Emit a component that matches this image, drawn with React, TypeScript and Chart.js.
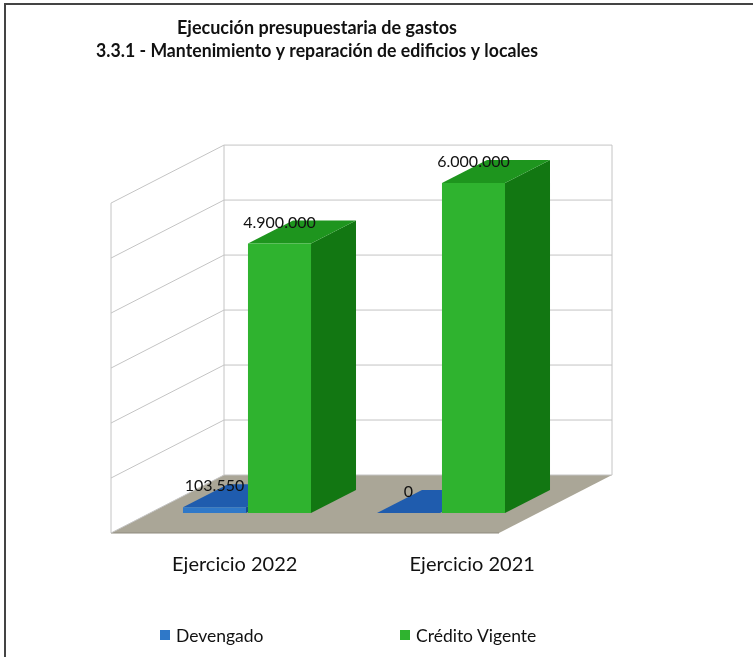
import React, { useEffect, useRef } from "react";
import { Chart, registerables } from "chart.js";

Chart.register(...registerables);

const categories = ["Ejercicio 2022", "Ejercicio 2021"];
const seriesNames = ["Devengado", "Crédito Vigente"];
const devengado = [103550, 0];
const creditoVigente = [4900000, 6000000];
const yMax = 6000000;
const yStep = 1000000;
const titleLines = [
  "Ejecución presupuestaria de gastos",
  "3.3.1 - Mantenimiento y reparación de edificios y locales",
];

const FONT = "Lato, 'Open Sans', sans-serif";

const COLORS = {
  blue: { front: "#2f78c8", top: "#1f5cae", side: "#174a8c" },
  green: { front: "#2fb32f", top: "#1e951e", side: "#127712" },
  floor: "#aaa697",
  wall: "#c4c4c4",
};

// depth of the floor/walls (pixels) and bar depth
const DEPTH = { dx: 113, dy: -58, front: 0.345 };
const BAR_DEPTH = { dx: 45, dy: -23 };

const fmt = (v: number) => String(v).replace(/\B(?=(\d{3})+(?!\d))/g, ".");

const proj = (x: number, y: number, t: number) => [
  x + (t - DEPTH.front) * DEPTH.dx,
  y + (t - DEPTH.front) * DEPTH.dy,
];

const poly = (ctx: CanvasRenderingContext2D, pts: number[][], fill?: string, stroke?: string) => {
  ctx.beginPath();
  pts.forEach((p, i) => (i === 0 ? ctx.moveTo(p[0], p[1]) : ctx.lineTo(p[0], p[1])));
  ctx.closePath();
  if (fill) {
    ctx.fillStyle = fill;
    ctx.fill();
  }
  if (stroke) {
    ctx.strokeStyle = stroke;
    ctx.lineWidth = 1;
    ctx.stroke();
  }
};

const line = (ctx: CanvasRenderingContext2D, a: number[], b: number[]) => {
  ctx.beginPath();
  ctx.moveTo(a[0], a[1]);
  ctx.lineTo(b[0], b[1]);
  ctx.stroke();
};

const threeD = {
  id: "threeD",
  afterLayout(chart: any) {
    // labels axis spans a wider band than the bar axis (perspective of the floor edge)
    const xl = chart.scales.xl;
    xl.left = 116;
    xl.right = 591;
    xl.configure();
  },
  beforeDatasetsDraw(chart: any) {
    const { ctx, chartArea, scales } = chart;
    const { left, right, top, bottom } = chartArea;
    const y = scales.y;
    ctx.save();
    // floor
    poly(ctx, [proj(left, bottom, 0), proj(right, bottom, 0), proj(right, bottom, 1), proj(left, bottom, 1)], COLORS.floor);
    ctx.strokeStyle = "#8f8b7e";
    ctx.lineWidth = 1;
    line(ctx, proj(left, bottom, 0), proj(right, bottom, 0));
    // walls
    ctx.strokeStyle = COLORS.wall;
    ctx.lineWidth = 1;
    y.ticks.forEach((tk: any) => {
      const py = y.getPixelForValue(tk.value);
      line(ctx, proj(left, py, 1), proj(right, py, 1));
      line(ctx, proj(left, py, 0), proj(left, py, 1));
    });
    line(ctx, proj(left, top, 1), proj(left, bottom, 1));
    line(ctx, proj(right, top, 1), proj(right, bottom, 1));
    line(ctx, proj(left, top, 0), proj(left, bottom, 0));
    // bar depth faces
    const palette = [COLORS.blue, COLORS.green];
    chart.data.datasets.forEach((_: any, di: number) => {
      const meta = chart.getDatasetMeta(di);
      const c = palette[di];
      meta.data.forEach((bar: any) => {
        const { x, y: by, base, width } = bar.getProps(["x", "y", "base", "width"], true);
        const l = x - width / 2;
        const r = x + width / 2;
        const { dx, dy } = BAR_DEPTH;
        poly(ctx, [[r, by], [r, base], [r + dx, base + dy], [r + dx, by + dy]], c.side);
        poly(ctx, [[l, by], [r, by], [r + dx, by + dy], [l + dx, by + dy]], c.top);
      });
    });
    ctx.restore();
  },
  afterDatasetsDraw(chart: any) {
    const { ctx } = chart;
    ctx.save();
    ctx.fillStyle = "#111";
    ctx.font = `16px ${FONT}`;
    ctx.textAlign = "center";
    ctx.textBaseline = "middle";
    chart.data.datasets.forEach((ds: any, di: number) => {
      const meta = chart.getDatasetMeta(di);
      meta.data.forEach((bar: any, i: number) => {
        const { x, y: by } = bar.getProps(["x", "y"], true);
        ctx.fillText(fmt(ds.data[i]), x, by - 21);
      });
    });
    ctx.restore();
  },
};

export default function App() {
  const ref = useRef<HTMLCanvasElement>(null);

  useEffect(() => {
    if (!ref.current) return;
    const chart = new Chart(ref.current, {
      type: "bar",
      data: {
        labels: categories,
        datasets: [
          {
            label: seriesNames[0],
            data: devengado,
            backgroundColor: COLORS.blue.front,
            xAxisID: "x",
            categoryPercentage: 0.67,
            barPercentage: 0.97,
          },
          {
            label: seriesNames[1],
            data: creditoVigente,
            backgroundColor: COLORS.green.front,
            xAxisID: "x",
            categoryPercentage: 0.67,
            barPercentage: 0.97,
          },
        ],
      },
      options: {
        responsive: false,
        animation: false,
        layout: { padding: { left: 96, right: 215, top: 0, bottom: 40 } },
        plugins: {
          legend: { display: false },
          tooltip: { enabled: false },
          title: {
            display: true,
            text: titleLines,
            color: "#111",
            font: { family: FONT, size: 18, weight: "bold", lineHeight: 1.28 },
            padding: { top: 17, bottom: 120 },
          },
        },
        scales: {
          x: {
            type: "category",
            display: false,
            offset: true,
          },
          xl: {
            type: "category",
            position: "bottom",
            offset: true,
            labels: categories,
            grid: { display: false, drawTicks: false },
            border: { display: false },
            ticks: { color: "#111", padding: 40, maxRotation: 0, font: { family: FONT, size: 20 } },
          },
          y: {
            min: 0,
            max: yMax,
            ticks: { stepSize: yStep, display: false },
            grid: { display: false, drawTicks: false },
            border: { display: false },
            afterFit: (s: any) => {
              s.width = 54;
            },
          },
        },
      },
      plugins: [threeD],
    });
    return () => chart.destroy();
  }, []);

  const legendItem = (color: string, text: string, left: number) => (
    <div
      style={{
        position: "absolute",
        left,
        top: 625,
        height: 20,
        display: "flex",
        alignItems: "center",
        fontFamily: FONT,
        fontSize: 17.5,
        color: "#111",
        whiteSpace: "nowrap",
      }}
    >
      <span style={{ display: "inline-block", width: 10, height: 10, background: color, marginRight: 6 }} />
      {text}
    </div>
  );

  return (
    <div style={{ position: "absolute", left: 0, top: 0, width: 753, height: 657, background: "#fff", overflow: "hidden" }}>
      <canvas ref={ref} width={753} height={657} style={{ position: "absolute", left: 0, top: 0 }} />
      <div
        style={{
          position: "absolute",
          left: 4,
          top: 3,
          width: 760,
          height: 700,
          borderLeft: "2px solid #444",
          borderTop: "2px solid #444",
          pointerEvents: "none",
        }}
      />
      {legendItem(COLORS.blue.front, seriesNames[0], 160)}
      {legendItem(COLORS.green.front, seriesNames[1], 400)}
    </div>
  );
}
